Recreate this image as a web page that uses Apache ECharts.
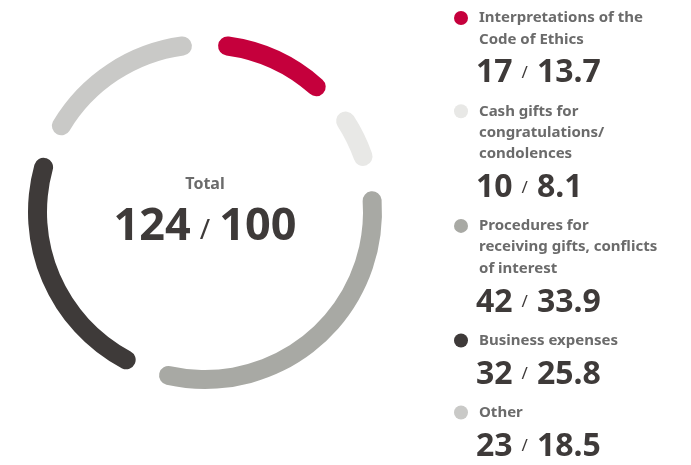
<!DOCTYPE html>
<html>
<head>
<meta charset="utf-8">
<script src="https://cdn.jsdelivr.net/npm/echarts@6/dist/echarts.min.js"></script>
<style>
  html, body { margin: 0; padding: 0; background: #ffffff; }
  #chart { width: 691px; height: 465px; }
</style>
</head>
<body>
<div id="chart"></div>
<script>
// Ethics consultation cases by type: count and share (%)
const categories = [
  'Interpretations of the\nCode of Ethics',
  'Cash gifts for\ncongratulations/\ncondolences',
  'Procedures for\nreceiving gifts, conflicts\nof interest',
  'Business expenses',
  'Other'
];
const counts = [17, 10, 42, 32, 23];
const shares = ['13.7', '8.1', '33.9', '25.8', '18.5'];
const totalCount = 124;
const totalShare = 100;
const colors = ['#c5003c', '#e8e8e6', '#a8a9a4', '#3e3a39', '#c9c9c7'];

const FONT = '"Noto Sans", sans-serif';
const chart = echarts.init(document.getElementById('chart'), null, { renderer: 'canvas' });

// Legend block on the right, one entry per category
const graphics = [];
const lx = 461, tx = 479;
let y = 18;
categories.forEach(function (name, i) {
  const lines = name.split('\n').length;
  graphics.push({
    type: 'circle',
    shape: { cx: lx, cy: y, r: 7 },
    style: { fill: colors[i] }
  });
  graphics.push({
    type: 'text',
    x: tx, y: y - 10.65,
    style: {
      text: name,
      font: 'bold 15px ' + FONT,
      fill: '#6b6b6b',
      lineHeight: 21.3,
      verticalAlign: 'top'
    }
  });
  const valueY = y + (lines - 1) * 21.3 + 34;
  graphics.push({
    type: 'text',
    x: tx - 3, y: valueY,
    style: {
      text: '{n|' + counts[i] + '}{s|/}{n|' + shares[i] + '}',
      verticalAlign: 'middle',
      rich: {
        n: { fontFamily: FONT, fontWeight: 'bold', fontSize: 32, fill: '#3e3a39' },
        s: { fontFamily: FONT, fontSize: 17, fill: '#3e3a39', padding: [0, 9, 0, 9] }
      }
    }
  });
  y = valueY + 38;
});

// Centre total
graphics.push({
  type: 'text',
  x: 205, y: 184,
  style: {
    text: 'Total',
    font: 'bold 16px ' + FONT,
    fill: '#6b6b6b',
    align: 'center',
    verticalAlign: 'middle'
  }
});
graphics.push({
  type: 'text',
  x: 205, y: 227,
  style: {
    text: '{n|' + totalCount + '}{s|/}{n|' + totalShare + '}',
    align: 'center',
    verticalAlign: 'middle',
    rich: {
      n: { fontFamily: FONT, fontWeight: 'bold', fontSize: 45, fill: '#3e3a39' },
      s: { fontFamily: FONT, fontSize: 28, fill: '#3e3a39', padding: [8, 9, 0, 9] }
    }
  }
});

chart.setOption({
  backgroundColor: '#ffffff',
  animation: false,
  series: [{
    type: 'pie',
    center: [205, 212],
    radius: [158, 177],
    startAngle: 90,
    clockwise: true,
    padAngle: 9,
    label: { show: false },
    labelLine: { show: false },
    emphasis: { disabled: true },
    itemStyle: { borderRadius: 10 },
    data: categories.map(function (name, i) {
      return { name: name, value: counts[i], itemStyle: { color: colors[i] } };
    })
  }],
  graphic: graphics
});
</script>
</body>
</html>
